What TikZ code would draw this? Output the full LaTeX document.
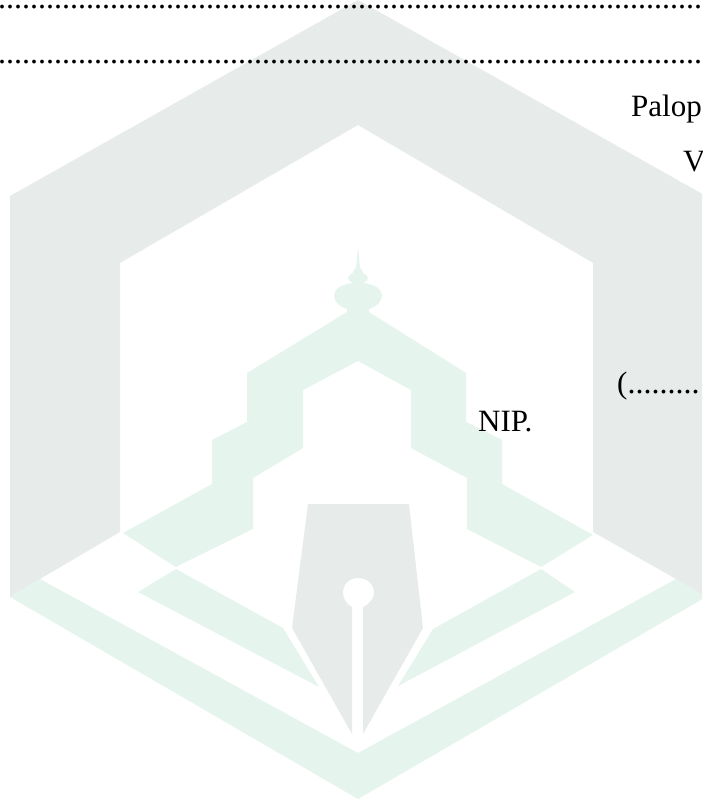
\documentclass[tikz,border=0pt]{standalone}
\usepackage{fontspec}
\setmainfont{Liberation Serif}
\definecolor{wmgrey}{HTML}{E7EBEA}
\definecolor{wmgreen}{HTML}{E5F4ED}
\newcommand{\dotrun}{........................................................................................}
\tikzset{
  greyshape/.style={fill=wmgrey,draw=none},
  greenshape/.style={fill=wmgreen,draw=none},
  doc/.style={inner sep=0pt,anchor=base west,font=\fontsize{31}{31}\selectfont},
  dotline/.style={inner sep=0pt,anchor=base west,font=\fontsize{32}{32}\selectfont}
}
\begin{document}
\begin{tikzpicture}[x=1pt,y=-1pt]
\useasboundingbox (0,0) rectangle (702,802);
\clip (0,0) rectangle (702,802);
% hexagon
\fill[greyshape] (10,196) -- (358,0) -- (706,196) -- (706,597) -- (676,579) -- (593,532) -- (593,263) -- (358,125) -- (120,263) -- (120,532) -- (40,579) -- (10,597) -- cycle;
\fill[greenshape] (10,597) -- (40,579) -- (358,753) -- (676,579) -- (706,597) -- (358,799) -- cycle;
% building
\fill[greenshape] (123,533) -- (212,484) -- (212,440) -- (247,422) -- (247,373) -- (347,312) -- (347,309)
  .. controls (338,306) and (334,301) .. (334,295)
  .. controls (334,289) and (342,284) .. (353,283)
  .. controls (350,282) and (348,280) .. (348,278)
  .. controls (348,276) and (351,274) .. (353,273)
  .. controls (353,271) and (354,269) .. (356,268)
  -- (358,247) -- (360,268)
  .. controls (362,269) and (363,271) .. (363,273)
  .. controls (365,274) and (368,276) .. (368,278)
  .. controls (368,280) and (366,282) .. (363,283)
  .. controls (374,284) and (382,289) .. (382,295)
  .. controls (382,301) and (378,306) .. (369,309)
  -- (369,312) -- (466,373) -- (466,422) -- (502,440) -- (502,484) -- (593,535) -- (541,567) -- (467,529) -- (467,478) -- (411,448) -- (411,390) -- (358,361) -- (303,390) -- (303,448) -- (253,478) -- (253,529) -- (175.5,567) -- cycle;
% wings
\fill[greenshape] (176,569) -- (138,592) -- (319,687) -- (283,628) -- cycle;
\fill[greenshape] (541,569) -- (575,592) -- (398,686) -- (433,629) -- cycle;
% pen
\fill[greyshape] (308,504) -- (409,504) -- (423,628) -- (363,734) -- (363,607) .. controls (370,604) and (374,598) .. (374,593) .. controls (374,584) and (367,578) .. (358,578) .. controls (349,578) and (343,584) .. (343,593) .. controls (343,598) and (346,604) .. (352,607) -- (352,734) -- (292,628) -- cycle;
% text
\node[dotline] (dotsa) at (-2,8.5) {\dotrun};
\node[dotline] (dotsb) at (-2,63.5) {\dotrun};
\node[doc] (palop) at (631,117) {Palop};
\node[doc] (v) at (683,172) {V};
\node[doc] (sig) at (617,393) {({\fontsize{32}{32}\selectfont .........}};
\node[doc] (nip) at (478,431) {NIP.};
\end{tikzpicture}
\end{document}
